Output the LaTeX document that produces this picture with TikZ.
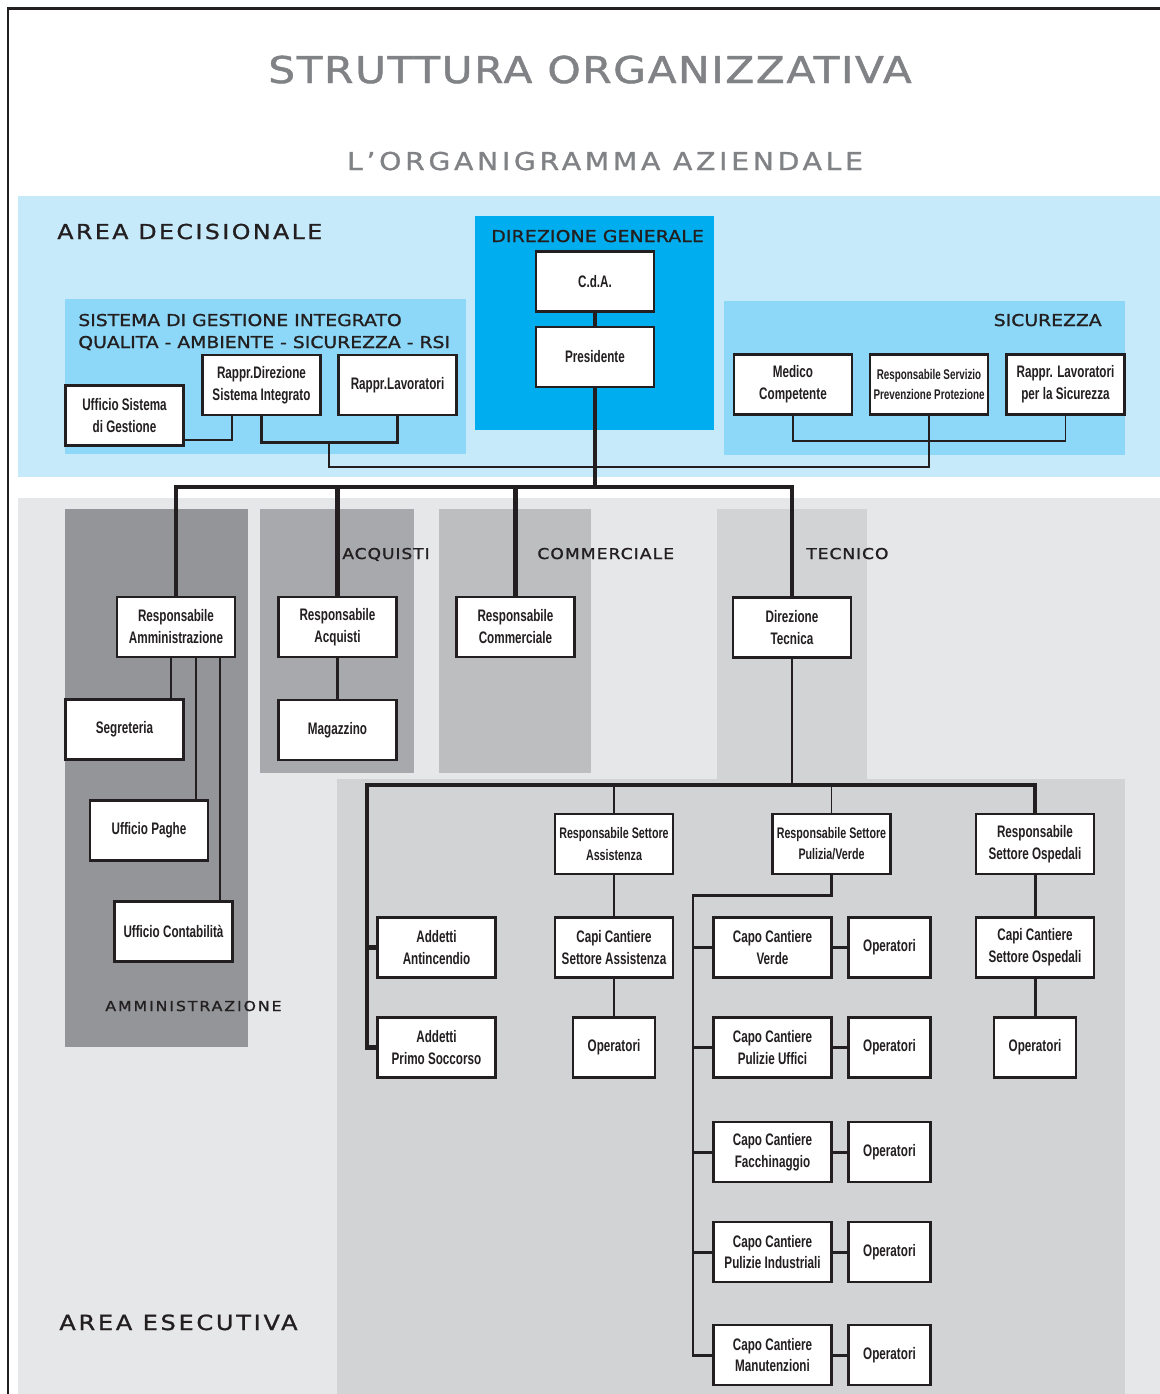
\documentclass[tikz,border=0pt]{standalone}
\usepackage{fontspec}
\setmainfont{Liberation Sans}
\newfontfamily\boxfont[FakeStretch=0.7]{Liberation Sans}
\newfontfamily\headfont[FakeStretch=1.15,FakeBold=1.2]{DejaVu Sans}
\usetikzlibrary{calc}

\definecolor{inkline}{HTML}{231F20}
\definecolor{titlegray}{HTML}{808285}
\definecolor{decblue}{HTML}{C7EAFB}
\definecolor{panelblue}{HTML}{8DD8F8}
\definecolor{dirblue}{HTML}{00AEEF}
\definecolor{execgray}{HTML}{E6E7E8}
\definecolor{ammgray}{HTML}{939598}
\definecolor{acqgray}{HTML}{A7A9AC}
\definecolor{commgray}{HTML}{BCBEC0}
\definecolor{tecgray}{HTML}{D1D3D4}

% header text: size (pt), letter spacing, text
\newcommand{\hdr}[3]{{\headfont\addfontfeature{LetterSpace=#2}\fontsize{#1}{#1}\selectfont #3}}

\tikzset{
  unit/.style={draw=inkline, line width=1.3pt, fill=white, inner sep=0pt,
    minimum width=2.36cm, minimum height=1.2cm, align=center, text=inkline,
    font=\boxfont\bfseries\fontsize{9.5}{12.5}\selectfont},
  opunit/.style={unit, minimum width=1.64cm},
  label/.style={inner sep=0pt, text=inkline},
  linkA/.style={draw=inkline, line width=2.3pt},
  linkB/.style={draw=inkline, line width=1.7pt},
  linkC/.style={draw=inkline, line width=1.1pt}
}

\begin{document}
\begin{tikzpicture}[x=0.02cm,y=-0.02cm]
  \useasboundingbox (0,0) rectangle (1160,1394);

  % backgrounds
  \fill[decblue] (18,196) rectangle (1160,477);
  \fill[dirblue] (475,216) rectangle (714,430);
  \fill[panelblue] (65,299) rectangle (466,454);
  \fill[panelblue] (724,301) rectangle (1125,455);
  \fill[execgray] (18,498) rectangle (1160,1394);
  \fill[ammgray] (65,509) rectangle (248,1047);
  \fill[acqgray] (260,509) rectangle (414,773);
  \fill[commgray] (439,509) rectangle (591,773);
  \fill[tecgray] (717,509) rectangle (867,779);
  \fill[tecgray] (337,779) rectangle (1125,1394);
  \draw[inkline, line width=1.7pt] (8,1394) -- (8,8) -- (1160,8);

  % titles
  \node[label, text=titlegray, anchor=base] (title) at (590,83) {\hdr{21}{4}{STRUTTURA ORGANIZZATIVA}};
  \node[label, text=titlegray, anchor=base] (subtitle) at (605,170) {\hdr{14}{15}{L’ORGANIGRAMMA AZIENDALE}};
  \node[label, anchor=base west] (decarea) at (57,239) {\hdr{11.7}{12}{AREA DECISIONALE}};
  \node[label, anchor=base west] (dirgen) at (491,242) {\hdr{9.3}{1}{DIREZIONE GENERALE}};
  \node[label, anchor=base west] (sgi1) at (78,326) {\hdr{9.3}{0}{SISTEMA DI GESTIONE INTEGRATO}};
  \node[label, anchor=base west] (sgi2) at (78,348) {\hdr{9.3}{0}{QUALITA - AMBIENTE - SICUREZZA - RSI}};
  \node[label, anchor=base east] (sicur) at (1102,326) {\hdr{9.3}{0}{SICUREZZA}};
  \node[label, anchor=base west] (acqlab) at (342,559) {\hdr{8.5}{6}{ACQUISTI}};
  \node[label, anchor=base west] (commlab) at (537,559) {\hdr{8.5}{7}{COMMERCIALE}};
  \node[label, anchor=base west] (teclab) at (806,559) {\hdr{8.5}{6}{TECNICO}};
  \node[label, anchor=base west] (ammlab) at (105,1011) {\hdr{7.8}{14}{AMMINISTRAZIONE}};
  \node[label, anchor=base west] (esearea) at (59,1330) {\hdr{11.9}{13}{AREA ESECUTIVA}};

  % area decisionale
  \node[unit] (cda) at (595,281.5) {C.d.A.};
  \node[unit] (pres) at (595,357) {Presidente};
  \node[unit] (usg) at (124.5,415.5) {Ufficio Sistema\\di Gestione};
  \node[unit] (rdsi) at (261.5,385) {Rappr.Direzione\\Sistema Integrato};
  \node[unit] (rlav) at (397.5,385) {Rappr.Lavoratori};
  \node[unit] (medico) at (793,384.5) {Medico\\Competente};
  \node[unit, font=\boxfont\bfseries\fontsize{8}{11.5}\selectfont] (rspp) at (929,384.5) {Responsabile Servizio\\Prevenzione Protezione};
  \node[unit] (rls) at (1065.5,384.5) {Rappr. Lavoratori\\per la Sicurezza};

  % area esecutiva
  \node[unit] (ramm) at (176,627) {Responsabile\\Amministrazione};
  \node[unit] (racq) at (337.5,627) {Responsabile\\Acquisti};
  \node[unit] (rcomm) at (515.5,627) {Responsabile\\Commerciale};
  \node[unit] (dirtec) at (792,627.5) {Direzione\\Tecnica};
  \node[unit] (segr) at (124.5,729.5) {Segreteria};
  \node[unit] (magaz) at (337.5,730) {Magazzino};
  \node[unit] (paghe) at (149,830.5) {Ufficio Paghe};
  \node[unit] (contab) at (173.5,931.5) {Ufficio Contabilità};

  \node[unit, font=\boxfont\bfseries\fontsize{8.7}{12}\selectfont] (rassist) at (614,844) {Responsabile Settore\\Assistenza};
  \node[unit, font=\boxfont\bfseries\fontsize{8.7}{12}\selectfont] (rpul) at (831.5,844) {Responsabile Settore\\Pulizia/Verde};
  \node[unit] (rosp) at (1035,844) {Responsabile\\Settore Ospedali};
  \node[unit] (antinc) at (436.5,947.5) {Addetti\\Antincendio};
  \node[unit] (primo) at (436.5,1047.5) {Addetti\\Primo Soccorso};
  \node[unit] (ccassist) at (614,947.5) {Capi Cantiere\\Settore Assistenza};
  \node[opunit] (opassist) at (614,1047.5) {Operatori};
  \node[unit] (ccosp) at (1035,947.5) {Capi Cantiere\\Settore Ospedali};
  \node[opunit] (oposp) at (1035,1047.5) {Operatori};
  \node[unit] (ccverde) at (772.5,947.5) {Capo Cantiere\\Verde};
  \node[unit] (ccuffici) at (772.5,1047.5) {Capo Cantiere\\Pulizie Uffici};
  \node[unit] (ccfacch) at (772.5,1152) {Capo Cantiere\\Facchinaggio};
  \node[unit] (ccind) at (772.5,1252) {Capo Cantiere\\Pulizie Industriali};
  \node[unit] (ccmanut) at (772.5,1355) {Capo Cantiere\\Manutenzioni};
  \node[opunit] (opverde) at (889.5,947.5) {Operatori};
  \node[opunit] (opuffici) at (889.5,1047.5) {Operatori};
  \node[opunit] (opfacch) at (889.5,1152) {Operatori};
  \node[opunit] (opind) at (889.5,1252) {Operatori};
  \node[opunit] (opmanut) at (889.5,1355) {Operatori};

  % connectors, decisional area
  \coordinate (topbus) at (595,487);
  \coordinate (sgitap) at (232,440);
  \coordinate (sgimid) at (329,442);
  \coordinate (safebus) at (929,467);
  \coordinate (sicmid) at (929,441);
  \draw[linkA] (cda) -- (pres);
  \draw[linkC] (usg.east |- sgitap) -- (sgitap) -- (sgitap |- rdsi.south);
  \draw[linkB] (rdsi.south) |- (sgimid) -| (rlav.south);
  \draw[linkC] (sgimid) |- (safebus) -- (rspp.south);
  \draw[linkC] (medico.south) |- (sicmid) -| (rls.south);
  \draw[linkA] (pres) -- (topbus);
  \draw[linkA] (ramm.north) |- (topbus) -| (dirtec.north);
  \draw[linkA] (racq.north) -- (racq.north |- topbus);
  \draw[linkA] (rcomm.north) -- (rcomm.north |- topbus);

  % connectors, executive area
  \draw[linkB] (ramm.south -| 171,0) -- (segr.north -| 171,0);
  \draw[linkB] (ramm.south -| 196,0) -- (paghe.north -| 196,0);
  \draw[linkB] (ramm.south -| 220,0) -- (contab.north -| 220,0);
  \draw[linkB] (racq) -- (magaz);

  \coordinate (techbus) at (367,785);
  \coordinate (pulbus) at (693,895);
  \draw[linkB] (dirtec) -- (dirtec.south |- techbus);
  \draw[linkA] (primo.west) -| (techbus) -| (rosp.north);
  \draw[linkA] (antinc.west) -- (antinc.west -| techbus);
  \draw[linkB] (rassist.north) -- (rassist.north |- techbus);
  \draw[linkC] (rpul.north) -- (rpul.north |- techbus);
  \draw[linkB] (rassist) -- (ccassist);
  \draw[linkB] (ccassist) -- (opassist);
  \draw[linkB] (rosp) -- (ccosp);
  \draw[linkB] (ccosp) -- (oposp);
  \draw[linkB] (rpul.south) |- (pulbus) -- (pulbus |- ccmanut.west) -- (ccmanut.west);
  \foreach \cc in {ccverde,ccuffici,ccfacch,ccind}
    \draw[linkB] (\cc.west) -- (\cc.west -| pulbus);
  \foreach \cc/\op in {ccverde/opverde,ccuffici/opuffici,ccfacch/opfacch,ccind/opind,ccmanut/opmanut}
    \draw[linkB] (\cc) -- (\op);
\end{tikzpicture}
\end{document}
